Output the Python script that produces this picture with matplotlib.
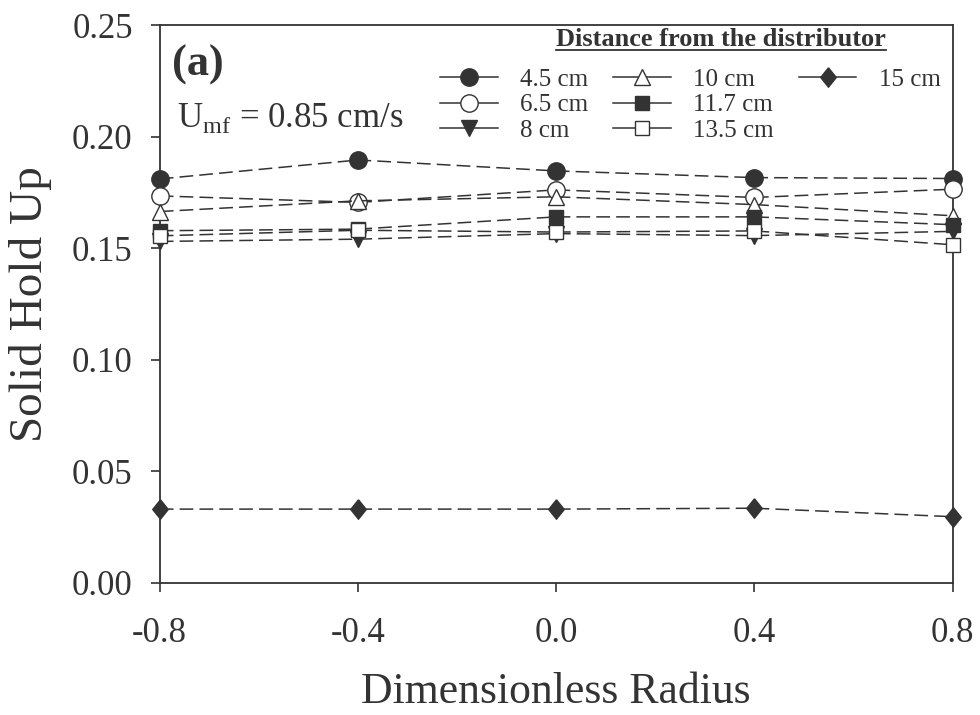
import matplotlib.pyplot as plt
from matplotlib.lines import Line2D
import numpy as np

plt.rcParams['font.family'] = ['Liberation Serif', 'DejaVu Serif']
plt.rcParams['mathtext.fontset'] = 'custom'
plt.rcParams['mathtext.rm'] = 'Liberation Serif'

radius = [-0.8, -0.4, 0.0, 0.4, 0.8]

# solid hold up at each height above the distributor
h_4_5 = [0.181, 0.1895, 0.1846, 0.1816, 0.1812]
h_6_5 = [0.1734, 0.1705, 0.1761, 0.1727, 0.1764]
h_8 = [0.1530, 0.1540, 0.1565, 0.1556, 0.1575]
h_10 = [0.1664, 0.1712, 0.1730, 0.1695, 0.1645]
h_11_7 = [0.1578, 0.1585, 0.1640, 0.1640, 0.1605]
h_13_5 = [0.1555, 0.1580, 0.1572, 0.1577, 0.1515]
h_15 = [0.0330, 0.0330, 0.0330, 0.0334, 0.0296]

labels = ["4.5 cm", "6.5 cm", "8 cm", "10 cm", "11.7 cm", "13.5 cm", "15 cm"]
series = [h_4_5, h_6_5, h_8, h_10, h_11_7, h_13_5, h_15]

diamond = [(0, 1), (0.8, 0), (0, -1), (-0.8, 0), (0, 1)]
markers = ["o", "o", "v", "^", "s", "s", diamond]
filled = [True, False, True, False, True, False, True]
sizes = [12.5, 12.5, 12, 12, 10, 10, 14]

dark = "#333333"

fig = plt.figure(figsize=(9.8, 7.15), dpi=100, facecolor='white')
ax = fig.add_axes([0.163, 0.185, 0.809, 0.78])

handles = []
for vals, lab, m, f, s in zip(series, labels, markers, filled, sizes):
    style = dict(marker=m, markersize=s, markeredgecolor=dark,
                 markerfacecolor=dark if f else "white", markeredgewidth=1.0)
    ax.plot(radius, vals, color=dark, lw=1.1, dashes=(9, 4),
            clip_on=False, zorder=3, **style)
    # legend keys use a short solid stroke through the marker
    handles.append(Line2D([], [], color=dark, lw=1.1, label=lab, **style))

ax.set_xlim(-0.8, 0.8)
ax.set_ylim(0, 0.25)
ax.set_xticks(radius)
ax.set_xticklabels(["-0.8", "-0.4", "0.0", "0.4", "0.8"])
ax.set_yticks(np.arange(0, 0.26, 0.05))
ax.set_yticklabels(["0.00", "0.05", "0.10", "0.15", "0.20", "0.25"])
ax.tick_params(direction='out', length=6.5, width=1.2, labelsize=25,
               top=False, right=False, colors=dark)
ax.tick_params(axis='x', pad=18)
ax.tick_params(axis='y', pad=13)
for sp in ax.spines.values():
    sp.set_color(dark)
    sp.set_linewidth(1.3)

ax.set_xlabel("Dimensionless Radius", fontsize=31.5, color=dark, labelpad=16)
ax.set_ylabel("Solid Hold Up", fontsize=34, color=dark, labelpad=14)

ax.text(0.016, 0.910, "(a)", transform=ax.transAxes, fontsize=32,
        fontweight='bold', color=dark, va='baseline')
ax.text(0.022, 0.817, r"U$_{\mathrm{mf}}$ = 0.85 cm/s", transform=ax.transAxes,
        fontsize=25, color=dark, va='baseline')

# three columns: 4.5/6.5/8, 10/11.7/13.5, 15
blank = Line2D([], [], color='none', label=' ')
leg = fig.legend(handles=handles + [blank, blank], loc='upper left',
                 bbox_to_anchor=(440 / 980, 1 - 68 / 715), ncol=3,
                 frameon=False, fontsize=18, handlelength=2.3,
                 columnspacing=1.0, handletextpad=0.9, labelspacing=0.13,
                 borderpad=0, borderaxespad=0)
for t in leg.get_texts():
    t.set_color(dark)

title = fig.text(721 / 980, 1 - 40 / 715, "Distance from the distributor",
                 fontsize=19, fontweight='bold', color=dark,
                 ha='center', va='center')
fig.canvas.draw()
# underline the legend heading
bb = title.get_window_extent().transformed(fig.transFigure.inverted())
fig.add_artist(Line2D([bb.x0, bb.x1], [1 - 50 / 715, 1 - 50 / 715],
                      transform=fig.transFigure, color=dark, lw=1.3))

fig.savefig("out.png", dpi=100, facecolor='white')
